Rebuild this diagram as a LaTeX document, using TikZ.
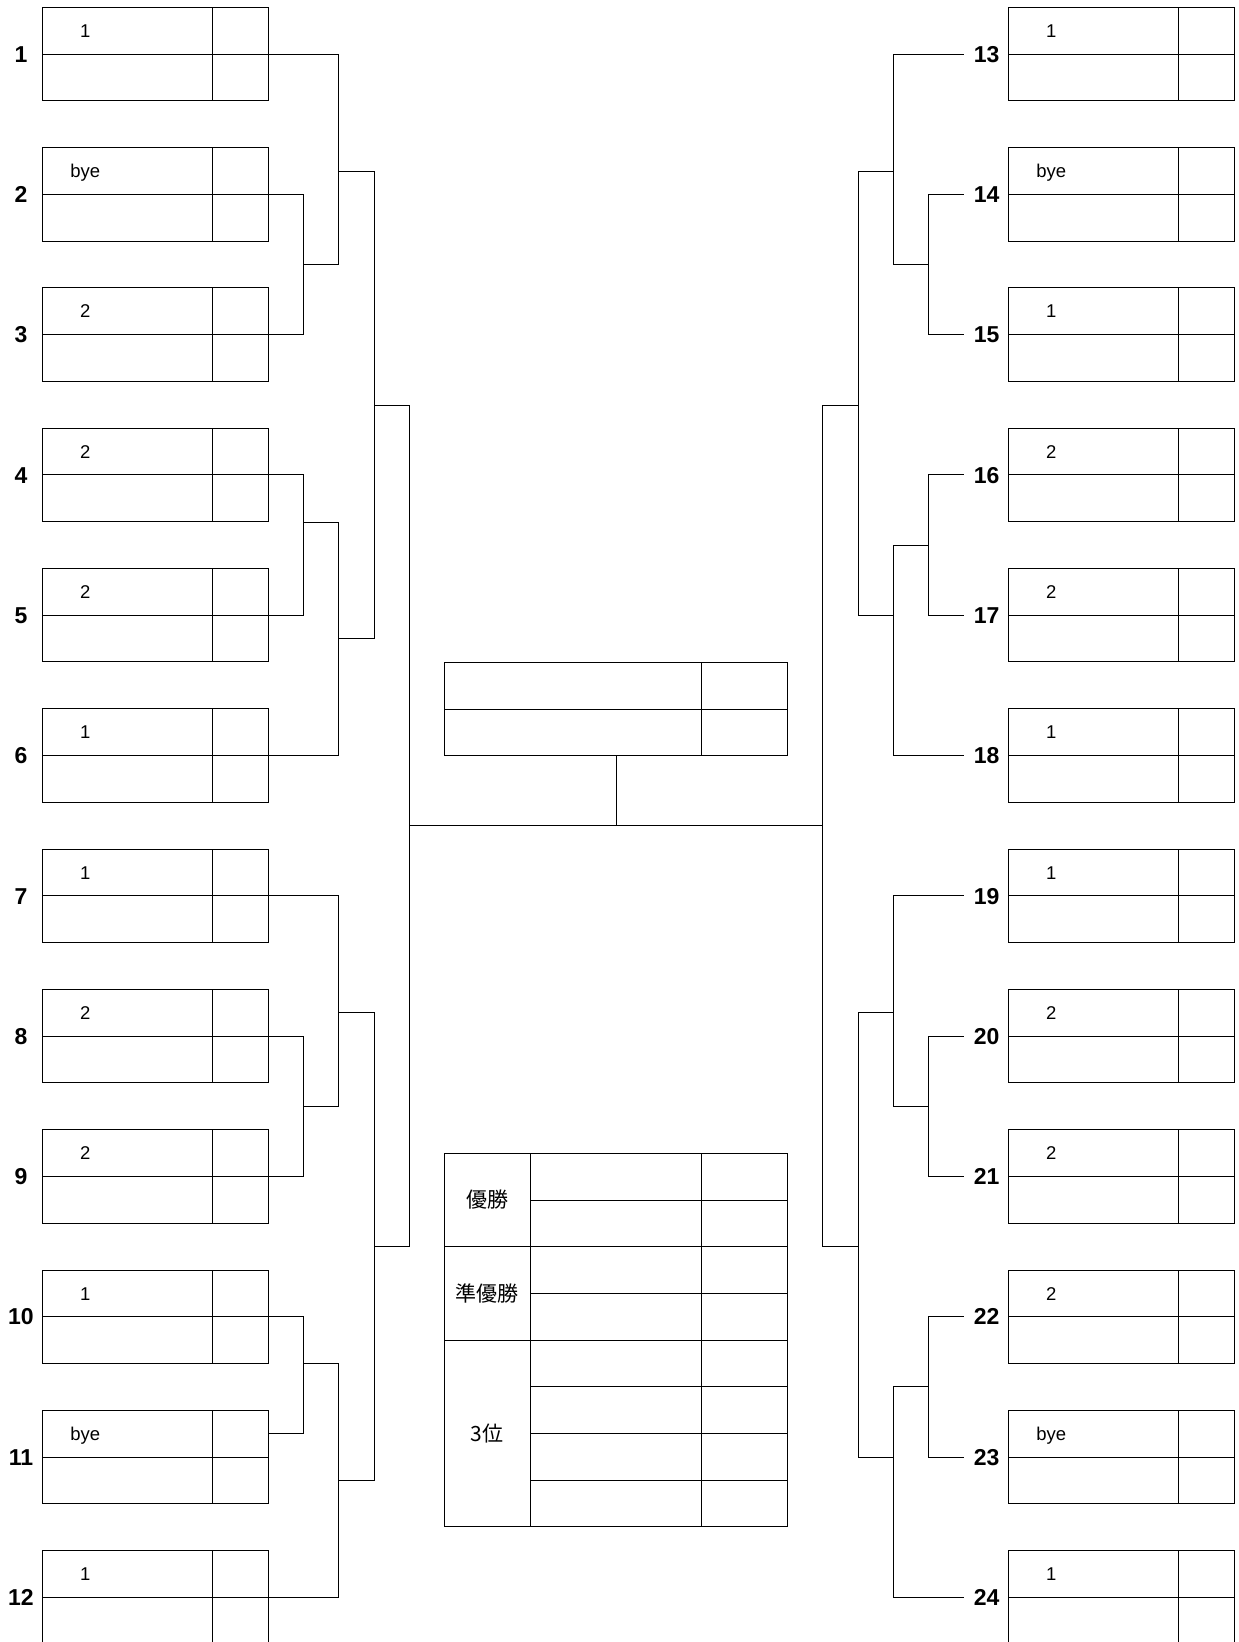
\documentclass[tikz,border=0pt]{standalone}
\usepackage{fontspec}
\setmainfont{Liberation Sans}
\newfontfamily\jpfont{Noto Sans CJK JP}
\usetikzlibrary{positioning, calc}

\begin{document}
\begin{tikzpicture}[x=1pt, y=-1pt,
  cell/.style={draw, line width=1pt, inner sep=0pt, outer sep=0pt, minimum height=46.7pt},
  namecell/.style={cell, minimum width=170pt},
  scorecell/.style={cell, minimum width=56pt},
  seedlbl/.style={font=\fontsize{18.5}{18.5}\selectfont, inner sep=0pt, text height=13.3pt, text depth=0pt},
  numlbl/.style={font=\fontsize{23}{23}\selectfont\bfseries, inner ysep=0pt, inner xsep=10pt, outer sep=0pt, text height=16.5pt, text depth=0pt},
  ranklbl/.style={cell, minimum width=86pt, font=\jpfont\fontsize{21}{21}\selectfont},
  wire/.style={line width=1pt},
]
  \useasboundingbox (0,0) rectangle (1239,1642);
  \clip (0,0) rectangle (1239,1642);

  \foreach \i/\s in {1/1, 2/bye, 3/2, 4/2, 5/2, 6/1, 7/1, 8/2, 9/2, 10/1, 11/bye, 12/1} {
    \pgfmathsetmacro\yy{7.3+(\i-1)*140.3}
    \node[namecell, anchor=north west] (nt\i) at (42.3,\yy) {};
    \node[namecell, below=0pt of nt\i] (nb\i) {};
    \node[scorecell, right=0pt of nt\i] (st\i) {};
    \node[scorecell, right=0pt of nb\i] (sb\i) {};
    \node[seedlbl] (k\i) at ([xshift=43pt]nt\i.west) {\s};
    \node[numlbl] (l\i) at ([xshift=-21.3pt]nt\i.south west) {\i};
  }
  \foreach \i/\s in {13/1, 14/bye, 15/1, 16/2, 17/2, 18/1, 19/1, 20/2, 21/2, 22/2, 23/bye, 24/1} {
    \pgfmathsetmacro\yy{7.3+(\i-13)*140.3}
    \node[namecell, anchor=north west] (nt\i) at (1008.3,\yy) {};
    \node[namecell, below=0pt of nt\i] (nb\i) {};
    \node[scorecell, right=0pt of nt\i] (st\i) {};
    \node[scorecell, right=0pt of nb\i] (sb\i) {};
    \node[seedlbl] (k\i) at ([xshift=43pt]nt\i.west) {\s};
    \node[numlbl] (l\i) at ([xshift=-21.6pt]nt\i.south west) {\i};
  }

  \coordinate (L23) at (303.5,264.3);
  \coordinate (L123) at (338.5,171.3);
  \coordinate (L45) at (303.5,522.3);
  \coordinate (L456) at (338.5,638.3);
  \coordinate (L1to6) at (374.5,405.3);
  \coordinate (L89) at (303.5,1106.3);
  \coordinate (L789) at (338.5,1012.3);
  \coordinate (L1011) at (303.5,1363.3);
  \coordinate (L1012) at (338.5,1480);
  \coordinate (L7to12) at (374.5,1246.3);
  \coordinate (Lfin) at (409.5,825);

  \draw[wire] (st2.south east) -| (L23) |- (st3.south east);
  \draw[wire] (st1.south east) -| (L123) |- (L23);
  \draw[wire] (st4.south east) -| (L45) |- (st5.south east);
  \draw[wire] (L45) -| (L456) |- (st6.south east);
  \draw[wire] (L123) -| (L1to6) |- (L456);
  \draw[wire] (st8.south east) -| (L89) |- (st9.south east);
  \draw[wire] (st7.south east) -| (L789) |- (L89);
  \draw[wire] (st10.south east) -| (L1011) |- (st11.east);
  \draw[wire] (L1011) -| (L1012) |- (st12.south east);
  \draw[wire] (L789) -| (L7to12) |- (L1012);
  \draw[wire] (L1to6) -| (Lfin) |- (L7to12);

  \coordinate (R1415) at (928.5,264.3);
  \coordinate (R1315) at (893.5,171.3);
  \coordinate (R1617) at (928.5,545);
  \coordinate (R1618) at (893.5,615.3);
  \coordinate (R13to18) at (858.5,405);
  \coordinate (R2021) at (928.5,1106.3);
  \coordinate (R1921) at (893.5,1012.3);
  \coordinate (R2223) at (928.5,1386);
  \coordinate (R2224) at (893.5,1457.3);
  \coordinate (R19to24) at (858.5,1246.3);
  \coordinate (Rfin) at (822.5,825);

  \draw[wire] (l14.west) -| (R1415) |- (l15.west);
  \draw[wire] (l13.west) -| (R1315) |- (R1415);
  \draw[wire] (l16.west) -| (R1617) |- (l17.west);
  \draw[wire] (R1617) -| (R1618) |- (l18.west);
  \draw[wire] (R1315) -| (R13to18) |- (R1618);
  \draw[wire] (l20.west) -| (R2021) |- (l21.west);
  \draw[wire] (l19.west) -| (R1921) |- (R2021);
  \draw[wire] (l22.west) -| (R2223) |- (l23.west);
  \draw[wire] (R2223) -| (R2224) |- (l24.west);
  \draw[wire] (R1921) -| (R19to24) |- (R2224);
  \draw[wire] (R13to18) -| (Rfin) |- (R19to24);
  \draw[wire] (Lfin) -- (Rfin);

  \node[cell, minimum width=257.4pt, anchor=north west] (fnt) at (444.3,662.3) {};
  \node[cell, minimum width=257.4pt, below=0pt of fnt] (fnb) {};
  \node[cell, minimum width=86pt, right=0pt of fnt] (fst) {};
  \node[cell, minimum width=86pt, right=0pt of fnb] (fsb) {};
  \coordinate (fin) at ($(fnb.south west)!0.5!(fsb.south east)$);
  \draw[wire] (fin) -- (fin |- Lfin);

  \node[ranklbl, minimum height=93.4pt, anchor=north west] (win) at (444.3,1153.3) {優勝};
  \node[ranklbl, minimum height=93.4pt, below=0pt of win] (second) {準優勝};
  \node[ranklbl, minimum height=186.8pt, below=0pt of second] (third) {3位};
  \foreach \k in {1,...,8} {
    \pgfmathsetmacro\yy{1153.3+(\k-1)*46.7}
    \node[cell, minimum width=171.4pt, anchor=north west] (rn\k) at (530.3,\yy) {};
    \node[cell, minimum width=86pt, right=0pt of rn\k] (rs\k) {};
  }
\end{tikzpicture}
\end{document}
